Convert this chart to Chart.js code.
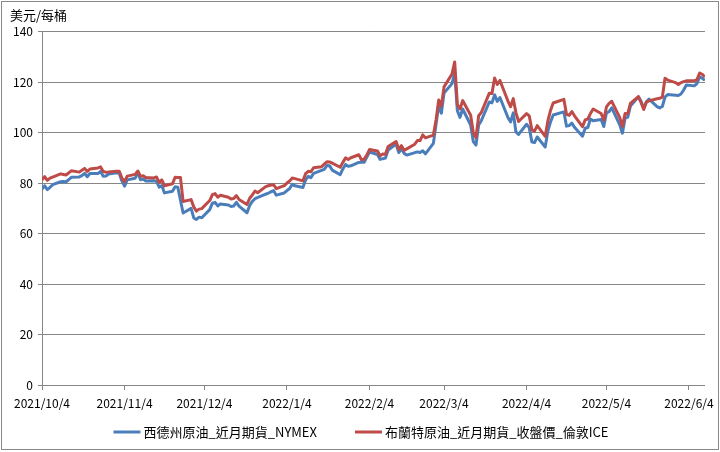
<!DOCTYPE html>
<html><head><meta charset="utf-8">
<script src="https://cdn.jsdelivr.net/npm/chart.js@4.4.0/dist/chart.umd.min.js"></script>
<style>
html,body{margin:0;padding:0;background:#fff;}
#wrap{position:relative;width:720px;height:452px;overflow:hidden;}
#frame{position:absolute;left:1px;top:1px;width:716px;height:447px;border:1px solid #8a8a8a;pointer-events:none;}
canvas{display:block;}
</style></head><body>
<div id="wrap"><canvas id="c" width="720" height="452"></canvas><div id="frame"></div></div>
<script>
const yTitle = '美元/每桶';
const seriesNames = ['西德州原油_近月期貨_NYMEX', '布蘭特原油_近月期貨_收盤價_倫敦ICE'];
const tickLabels = ['2021/10/4','2021/11/4','2021/12/4','2022/1/4','2022/2/4','2022/3/4','2022/4/4','2022/5/4','2022/6/4'];

const dates = [
 '2021/10/4','2021/10/5','2021/10/6','2021/10/7','2021/10/8','2021/10/11','2021/10/12','2021/10/13','2021/10/14','2021/10/15','2021/10/18','2021/10/19','2021/10/20','2021/10/21','2021/10/22','2021/10/25','2021/10/26','2021/10/27','2021/10/28','2021/10/29',
 '2021/11/1','2021/11/2','2021/11/3','2021/11/4','2021/11/5','2021/11/8','2021/11/9','2021/11/10','2021/11/11','2021/11/12','2021/11/15','2021/11/16','2021/11/17','2021/11/18','2021/11/19','2021/11/22','2021/11/23','2021/11/24','2021/11/25','2021/11/26','2021/11/29','2021/11/30',
 '2021/12/1','2021/12/2','2021/12/3','2021/12/6','2021/12/7','2021/12/8','2021/12/9','2021/12/10','2021/12/13','2021/12/14','2021/12/15','2021/12/16','2021/12/17','2021/12/20','2021/12/21','2021/12/22','2021/12/23','2021/12/24','2021/12/27','2021/12/28','2021/12/29','2021/12/30','2021/12/31',
 '2022/1/3','2022/1/4','2022/1/5','2022/1/6','2022/1/7','2022/1/10','2022/1/11','2022/1/12','2022/1/13','2022/1/14','2022/1/17','2022/1/18','2022/1/19','2022/1/20','2022/1/21','2022/1/24','2022/1/25','2022/1/26','2022/1/27','2022/1/28','2022/1/31',
 '2022/2/1','2022/2/2','2022/2/3','2022/2/4','2022/2/7','2022/2/8','2022/2/9','2022/2/10','2022/2/11','2022/2/14','2022/2/15','2022/2/16','2022/2/17','2022/2/18','2022/2/21','2022/2/22','2022/2/23','2022/2/24','2022/2/25','2022/2/28',
 '2022/3/1','2022/3/2','2022/3/3','2022/3/4','2022/3/7','2022/3/8','2022/3/9','2022/3/10','2022/3/11','2022/3/14','2022/3/15','2022/3/16','2022/3/17','2022/3/18','2022/3/21','2022/3/22','2022/3/23','2022/3/24','2022/3/25','2022/3/28','2022/3/29','2022/3/30','2022/3/31',
 '2022/4/1','2022/4/4','2022/4/5','2022/4/6','2022/4/7','2022/4/8','2022/4/11','2022/4/12','2022/4/13','2022/4/14','2022/4/18','2022/4/19','2022/4/20','2022/4/21','2022/4/22','2022/4/25','2022/4/26','2022/4/27','2022/4/28','2022/4/29',
 '2022/5/2','2022/5/3','2022/5/4','2022/5/5','2022/5/6','2022/5/9','2022/5/10','2022/5/11','2022/5/12','2022/5/13','2022/5/16','2022/5/17','2022/5/18','2022/5/19','2022/5/20','2022/5/23','2022/5/24','2022/5/25','2022/5/26','2022/5/27','2022/5/30','2022/5/31',
 '2022/6/1','2022/6/2','2022/6/3','2022/6/6','2022/6/7','2022/6/8','2022/6/9','2022/6/10'
];

const wti = [
 77.62,78.93,77.43,78.30,79.35,80.52,80.64,80.44,81.31,82.28,82.44,82.96,83.87,82.50,83.76,83.76,84.65,82.66,82.81,83.57,
 84.05,83.91,80.86,78.81,81.27,81.93,84.15,81.34,81.59,80.79,80.88,80.76,78.36,79.01,76.10,76.75,78.50,78.39,null,68.15,69.95,66.18,
 65.57,66.50,66.26,69.49,72.05,72.36,70.94,71.67,71.29,70.73,70.87,72.38,70.86,68.23,71.12,72.76,73.79,null,75.57,75.98,76.56,76.99,75.21,
 76.08,76.99,77.85,79.46,78.90,78.23,81.22,82.64,82.12,83.82,null,85.43,86.96,86.90,85.14,83.31,85.60,87.35,86.61,86.82,88.15,
 88.20,88.26,90.27,92.31,91.32,89.36,89.66,89.88,93.10,95.46,92.07,93.66,91.76,91.07,null,92.35,92.10,92.81,91.59,95.72,
 103.41,110.60,107.67,115.68,119.40,123.70,108.70,106.02,109.33,103.01,96.44,95.04,102.98,104.70,112.12,111.76,114.93,112.34,113.90,105.96,104.24,107.82,100.28,
 99.27,103.28,101.96,96.23,96.03,98.26,94.29,100.60,104.25,106.95,108.21,102.56,102.75,103.79,102.07,98.54,101.70,102.02,105.36,104.69,
 105.17,102.41,107.81,108.26,109.77,103.09,99.76,105.71,106.13,110.49,114.20,112.40,109.59,112.21,113.23,110.29,109.77,110.33,114.09,115.07,null,114.67,
 115.26,116.87,118.87,118.50,119.41,122.11,121.51,120.67
];

const brent = [
 81.26,82.56,81.08,81.95,82.39,83.65,83.42,83.18,84.00,84.86,84.33,85.08,85.82,84.61,85.53,85.99,86.40,84.58,84.32,84.38,
 84.71,84.72,81.99,80.54,82.74,83.43,84.78,82.64,82.87,82.17,82.05,82.43,80.28,81.24,78.89,79.70,82.31,82.25,82.22,72.72,73.44,70.57,
 68.87,69.67,69.88,73.08,75.44,75.82,74.42,75.15,74.39,73.70,73.88,75.02,73.52,71.52,73.98,75.29,76.85,76.14,78.60,78.94,79.23,79.32,77.78,
 78.98,80.00,80.80,81.99,81.75,80.87,83.72,84.67,84.47,86.06,86.48,87.51,88.44,88.38,87.89,86.27,88.20,89.96,89.34,90.03,91.21,
 89.16,89.47,91.11,93.27,92.69,90.78,91.55,91.41,94.44,96.48,93.28,94.81,92.97,93.54,95.39,96.84,96.84,99.08,97.93,99.00,
 104.97,112.93,110.46,118.11,123.21,127.98,111.14,109.33,112.67,106.90,99.91,98.02,106.64,107.93,115.62,115.48,121.60,119.03,120.65,112.48,110.23,113.45,107.91,
 104.39,107.53,106.64,101.07,100.58,102.78,98.48,104.64,108.78,111.70,113.16,107.25,106.80,108.33,106.65,102.32,104.99,105.32,107.59,109.34,
 107.58,104.97,110.14,111.55,112.39,105.94,102.46,107.51,107.45,111.55,114.24,111.93,109.11,112.04,112.55,113.42,113.56,114.03,121.50,120.80,119.80,119.00,
 119.80,120.20,120.50,120.50,121.00,123.60,123.10,122.00
];

const seriesColors = ['#4A7EBB', '#BE4B48'];
const FONT = '"Noto Sans CJK TC", "Noto Sans", sans-serif';

const base = Date.UTC(2021, 9, 4);
function dayOf(s) {
  const p = s.split('/').map(Number);
  return Math.round((Date.UTC(p[0], p[1] - 1, p[2]) - base) / 86400000);
}
const tickDays = tickLabels.map(dayOf);

function toPoints(vals) {
  return vals.map((v, i) => ({ x: dayOf(dates[i]), y: v }));
}

const customLegend = {
  id: 'customLegend',
  afterDraw(chart) {
    const ctx = chart.ctx;
    ctx.save();
    ctx.font = '13px ' + FONT;
    const sample = 27, gap = 3, itemGap = 38;
    const widths = seriesNames.map(n => ctx.measureText(n).width);
    let total = 0;
    widths.forEach((w, i) => { total += sample + gap + w + (i ? itemGap : 0); });
    let x = 361 - total / 2;
    const y = 432;
    seriesNames.forEach((n, i) => {
      ctx.strokeStyle = seriesColors[i];
      ctx.lineWidth = 3;
      ctx.beginPath();
      ctx.moveTo(x, y);
      ctx.lineTo(x + sample, y);
      ctx.stroke();
      ctx.fillStyle = '#000';
      ctx.textBaseline = 'middle';
      ctx.textAlign = 'left';
      ctx.fillText(n, x + sample + gap, y);
      x += sample + gap + widths[i] + itemGap;
    });
    ctx.restore();
  }
};

new Chart(document.getElementById('c'), {
  type: 'line',
  data: {
    datasets: [
      { label: seriesNames[0], data: toPoints(wti), borderColor: seriesColors[0], backgroundColor: seriesColors[0],
        borderWidth: 3, pointRadius: 0, tension: 0, spanGaps: true, order: 1, borderJoinStyle: 'round' },
      { label: seriesNames[1], data: toPoints(brent), borderColor: seriesColors[1], backgroundColor: seriesColors[1],
        borderWidth: 3, pointRadius: 0, tension: 0, spanGaps: true, order: 0, borderJoinStyle: 'round' }
    ]
  },
  options: {
    responsive: false,
    animation: false,
    layout: { padding: { left: 10, right: 14, top: 0, bottom: 37 } },
    plugins: {
      legend: { display: false },
      tooltip: { enabled: false },
      title: { display: true, text: yTitle, align: 'start', color: '#000',
               font: { size: 13, family: FONT, weight: 'normal' }, padding: { top: 7, bottom: 9 } }
    },
    scales: {
      x: {
        type: 'linear',
        min: 0,
        max: dayOf(dates[dates.length - 1]),
        afterBuildTicks: (scale) => { scale.ticks = tickDays.map(v => ({ value: v })); },
        afterFit: (scale) => { scale.height = 30; },
        grid: { display: true, drawOnChartArea: false, drawTicks: true, tickLength: 5, color: '#868686' },
        border: { display: true, color: '#868686' },
        ticks: {
          autoSkip: false, maxRotation: 0, minRotation: 0, padding: 6, color: '#000',
          font: { size: 12, family: FONT },
          callback: (value) => { const i = tickDays.indexOf(value); return i >= 0 ? tickLabels[i] : ''; }
        }
      },
      y: {
        min: 0, max: 140,
        afterFit: (scale) => { scale.width = 32; },
        grid: { color: '#868686', tickLength: 4, drawTicks: true },
        border: { display: true, color: '#868686' },
        ticks: { stepSize: 20, padding: 5, color: '#000', font: { size: 12, family: FONT } }
      }
    }
  },
  plugins: [customLegend]
});
</script>
</body></html>
